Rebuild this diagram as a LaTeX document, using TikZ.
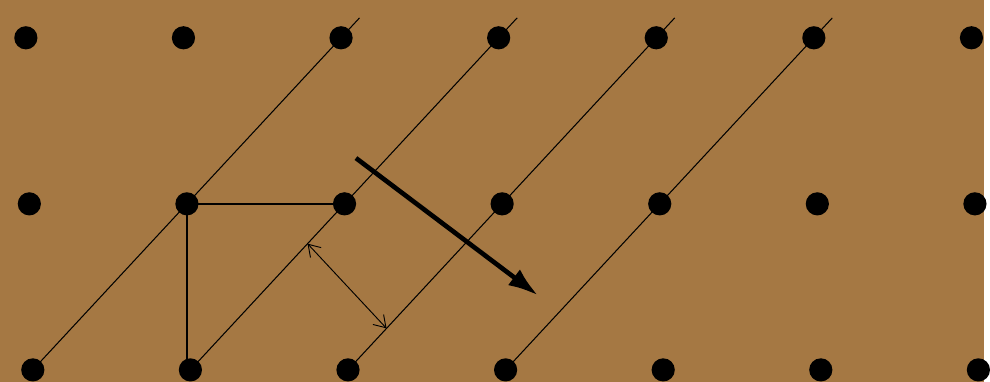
\documentclass[tikz,border=0pt]{standalone}
\usetikzlibrary{arrows.meta,calc}
\definecolor{boardbrown}{HTML}{A57843}

\begin{document}
\begin{tikzpicture}[
  x=0.03cm,y=-0.03cm,
  dot/.style={circle,fill=black,inner sep=0pt,minimum size=0.7cm},
  ray/.style={line width=0.9pt},
  edge/.style={line width=1.6pt},
  gap/.style={{Straight Barb[length=3.4mm,width=4.4mm]}-{Straight Barb[length=3.4mm,width=4.4mm]},line width=0.8pt},
  push/.style={-{Latex[length=9mm,width=6mm]},line width=4pt}
]
\fill[boardbrown] (0,0) rectangle (990,384);
% lattice points
\foreach \r in {0,1,2}
  \foreach \c in {0,...,6}
    \node[dot] (d-\r-\c) at ({26+3.5*\r+158.5*\c},{38+167*\r}) {};
% lattice lines
\foreach \k/\m/\n in {0/1/2,1/2/3,2/3/4,3/4/5}
  \draw[ray] (d-2-\k.center) -- (d-1-\m.center) -- ($(d-0-\n.center)!-0.12!(d-1-\m.center)$);
\draw[edge] (d-1-2.center) -- (d-1-1.center) -- (d-1-1 |- d-2-1);
\coordinate (g1) at ($(d-2-1.center)!0.76!(d-1-2.center)$);
\coordinate (g2) at ($(d-2-2.center)!0.25!(d-1-3.center)$);
\draw[gap] (g1) -- (g2);
\coordinate (p0) at (358,159);
\coordinate (p1) at (541,297);
\draw[push] (p0) -- (p1);
\end{tikzpicture}
\end{document}
